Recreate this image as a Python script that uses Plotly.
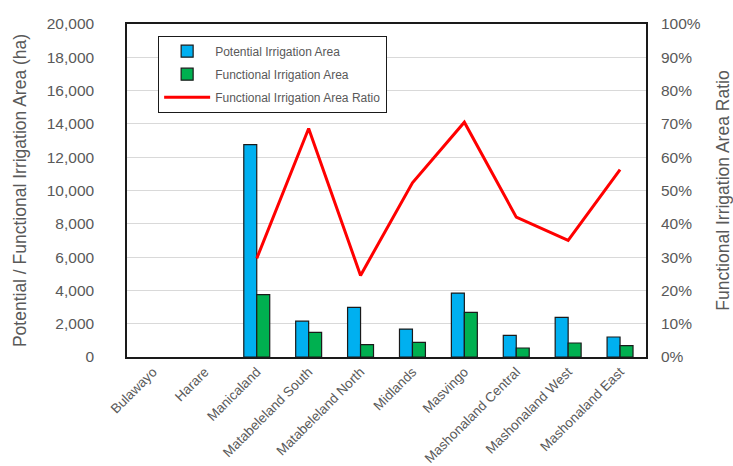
import plotly.graph_objects as go

provinces = ["Bulawayo", "Harare", "Manicaland", "Matabeleland South", "Matabeleland North",
             "Midlands", "Masvingo", "Mashonaland Central", "Mashonaland West", "Mashonaland East"]
potential_ha = [None, None, 12750, 2150, 2980, 1680, 3840, 1300, 2380, 1200]
functional_ha = [None, None, 3750, 1480, 740, 880, 2680, 540, 840, 680]
ratio_pct = [None, None, 29.6, 68.6, 24.5, 52.3, 70.5, 42.0, 35.0, 56.3]

left_ticks = list(range(0, 20001, 2000))
right_ticks = list(range(0, 101, 10))

FONT = "Liberation Sans, Arial, sans-serif"
GRAY = "#595959"
EDGE = "#1a1a1a"

fig = go.Figure()
fig.add_trace(go.Bar(
    x=provinces, y=potential_ha, name="Potential Irrigation Area", legendgroup="a",
    marker=dict(color="#00b0f0", line=dict(color=EDGE, width=1.2)),
))
fig.add_trace(go.Bar(
    x=provinces, y=functional_ha, name="Functional Irrigation Area", legendgroup="b",
    marker=dict(color="#00b050", line=dict(color=EDGE, width=1.2)),
))
fig.add_trace(go.Scatter(
    x=provinces, y=ratio_pct, name="Functional Irrigation Area Ratio", legendgroup="c",
    mode="lines", line=dict(color="#ff0000", width=3), yaxis="y2",
))

fig.update_layout(
    width=733, height=466,
    margin=dict(l=127, r=87, t=24, b=109),
    paper_bgcolor="white", plot_bgcolor="white",
    font=dict(family=FONT, color=GRAY),
    barmode="group", bargap=0.5, bargroupgap=0,
    showlegend=True,
    legend=dict(
        x=0.06, y=0.965, xanchor="left", yanchor="top",
        bgcolor="white", bordercolor=EDGE, borderwidth=1,
        font=dict(family=FONT, size=12, color=GRAY),
        tracegroupgap=4, itemwidth=46,
    ),
    xaxis=dict(
        tickangle=-45, tickfont=dict(size=13.5, color=GRAY), automargin=False,
        showline=True, linecolor=EDGE, linewidth=1.5, mirror=True,
        ticks="", showgrid=False,
    ),
    yaxis=dict(
        range=[0, 20000], tickvals=left_ticks,
        ticktext=[f"{v:,}" for v in left_ticks],
        tickfont=dict(size=15.5, color=GRAY), ticklabelstandoff=28,
        title=dict(text="Potential / Functional Irrigation Area (ha)",
                   font=dict(size=17.5, color=GRAY), standoff=16),
        automargin=False,
        showgrid=True, gridcolor="#d9d9d9", gridwidth=1.3,
        showline=True, linecolor=EDGE, linewidth=1.5, mirror=True,
        zeroline=False, ticks="",
    ),
    yaxis2=dict(
        range=[0, 100], tickvals=right_ticks,
        ticktext=[f"{v}%" for v in right_ticks],
        tickfont=dict(size=15.5, color=GRAY), ticklabelstandoff=14,
        title=dict(text="Functional Irrigation Area Ratio",
                   font=dict(size=17.5, color=GRAY), standoff=20),
        automargin=False,
        overlaying="y", side="right", showgrid=False, zeroline=False, ticks="",
    ),
)

fig.write_html("out.html")
